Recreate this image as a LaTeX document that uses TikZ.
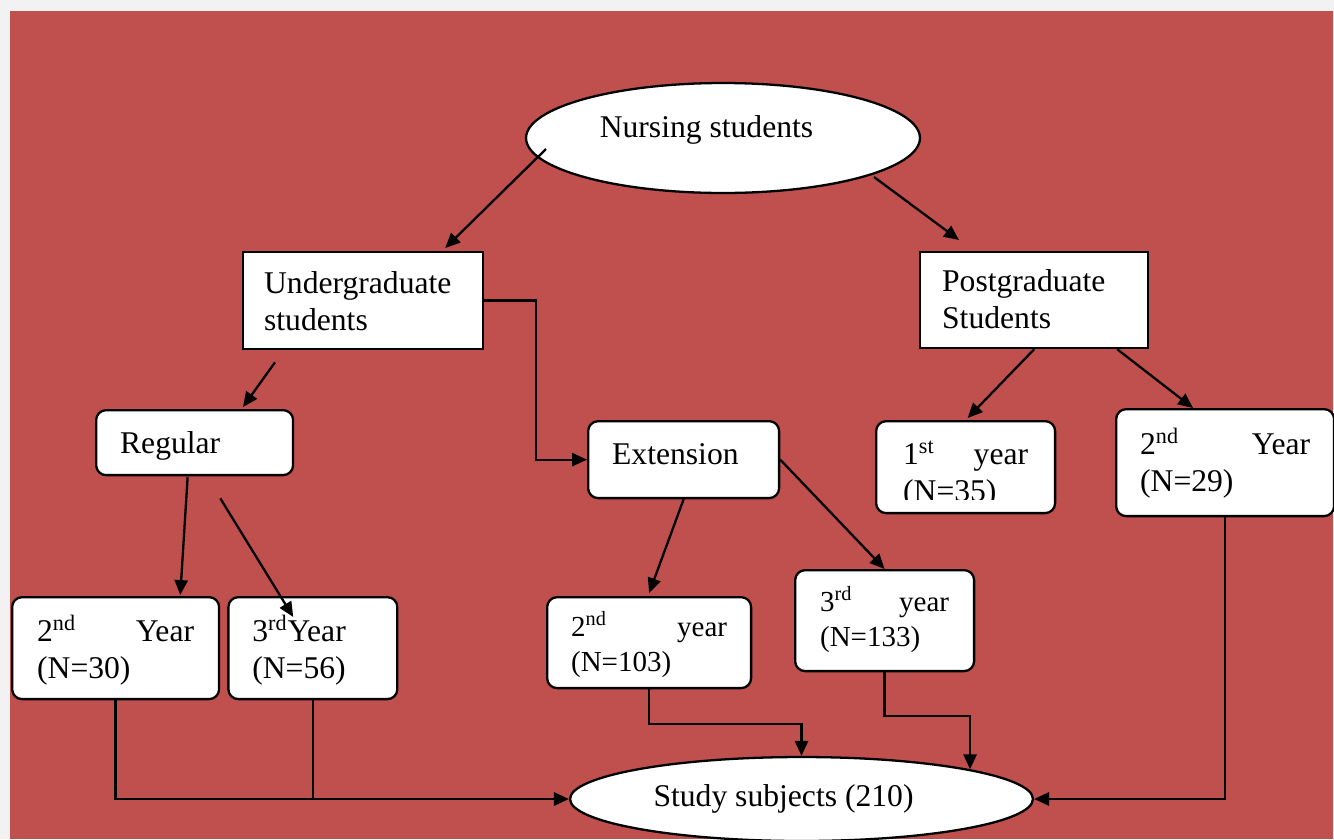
\documentclass[tikz,border=0pt]{standalone}
\usepackage{fontspec}
\setmainfont{Liberation Serif}
\usetikzlibrary{arrows.meta,positioning,shapes.geometric,calc}
\definecolor{bgred}{HTML}{C0504D}
\definecolor{bggray}{HTML}{F2F2F2}
\newcommand\txtA{\fontsize{18}{21}\selectfont}
\newcommand\txtB{\fontsize{16.5}{20}\selectfont}

\begin{document}
\begin{tikzpicture}[x=0.02cm,y=-0.02cm,>={Triangle[length=8.5pt,width=7.5pt]}]
  \tikzstyle{box}=[draw,line width=1.3pt,fill=white,align=left,inner ysep=0pt,font=\txtA]
  \tikzstyle{rbox}=[box,rounded corners=0.2cm]
  \tikzstyle{oval}=[ellipse,draw,line width=1.3pt,fill=white,inner sep=2pt,font=\txtA]
  \tikzstyle{link}=[line width=1.3pt,->]
  \tikzstyle{wire}=[line width=1.3pt]
  \useasboundingbox (0,0) rectangle (1334,839);
  \fill[bggray] (0,0) rectangle (1334,839);
  \fill[bgred] (10,11) rectangle (1333,839);
  \node[oval,minimum width=7.88cm,minimum height=2.2cm,text height=12pt,text depth=13pt] (nurse) at (723,138) {Nursing students\hspace*{0.66cm}};
  \node[box,anchor=north west,inner xsep=0.42cm,text width=3.96cm,text height=0.82cm,text depth=1.12cm] (ugrad) at (242,251) {Undergraduate\\students};
  \node[box,anchor=north west,inner xsep=0.44cm,text width=3.68cm,text height=0.78cm,text depth=1.14cm] (pgrad) at (919,251) {Postgraduate\\Students};
  \node[rbox,anchor=north west,inner xsep=0.48cm,text width=2.98cm,text height=0.86cm,text depth=0.44cm] (reg) at (95,409) {Regular};
  \node[rbox,anchor=north west,inner xsep=0.48cm,text width=2.86cm,text height=0.86cm,text depth=0.68cm] (ext) at (587,420) {Extension};
  \node[rbox,anchor=north west,inner xsep=0.5cm,text width=3.14cm,text height=0.88cm,text depth=1.16cm] (regtwo) at (11,596) {2\textsuperscript{nd}\hfill Year\\(N=30)};
  \node[rbox,right=0.14cm of regtwo,inner xsep=0.48cm,text width=2.42cm,text height=0.88cm,text depth=1.16cm] (regthree) {3\textsuperscript{rd}Year\\(N=56)};
  \node[rbox,anchor=north west,font=\txtB,inner xsep=0.48cm,text width=3.12cm,text height=0.78cm,text depth=1.04cm] (exttwo) at (546,596) {2\textsuperscript{nd}\hfill year\\(N=103)};
  \node[rbox,anchor=north west,font=\txtB,inner xsep=0.5cm,text width=2.58cm,text height=0.82cm,text depth=1.2cm] (extthree) at (794,569) {3\textsuperscript{rd}\hfill year\\(N=133)};
  \node[rbox,anchor=north west,inner xsep=0.54cm,text width=2.5cm,text height=0.86cm,text depth=0.98cm] (pgone) at (875,420) {1\textsuperscript{st}\hfill year\\(N=35)};
  \fill[white] ($(pgone.south west)+(15,-14)$) rectangle ($(pgone.south east)+(-15,-3)$);
  \node[rbox,anchor=north west,inner xsep=0.48cm,text width=3.4cm,text height=0.9cm,text depth=1.24cm] (pgtwo) at (1115,408) {2\textsuperscript{nd}\hfill Year\\(N=29)};
  \node[oval,minimum width=9.26cm,minimum height=1.68cm] (study) at (801.5,799) {Study subjects (210)\hspace*{0.72cm}};
  \draw[link] ($(nurse.center)+(-177,11)$) -- ($(ugrad.north east)+(-39,-3)$);
  \draw[link] ($(nurse.center)+(151,39)$) -- ($(pgrad.north west)+(40,-11)$);
  \draw[link] ($(ugrad.south west)+(33,12)$) -- ($(reg.north west)+(148,-2)$);
  \draw[link] (ugrad.east) -- ++(52,0) |- (ext.west);
  \draw[link] (pgrad.south) -- ($(pgone.north)+(2,-2)$);
  \draw[link] ($(pgrad.south east)+(-32,0)$) -- ($(pgtwo.north west)+(78,0)$);
  \draw[link] ($(reg.south)+(-7,1)$) -- ($(regtwo.north east)+(-40,-1)$);
  \draw[link] ($(reg.south east)+(-74,22)$) -- ($(regthree.north west)+(66,21)$);
  \draw[link] (ext.south) -- ($(exttwo.north)+(0,-3)$);
  \draw[link] (ext.east) -- (extthree.north);
  \draw[link] (regtwo.south) |- (study.west);
  \draw[wire] (regthree.south) -- (regthree.south |- study.west);
  \draw[link] (exttwo.south) -- ++(0,35) -| (study.north);
  \draw[link] (extthree.south) -- ++(0,44) -| (study.10);
  \draw[link] (pgtwo.south) |- (study.east);
\end{tikzpicture}
\end{document}
